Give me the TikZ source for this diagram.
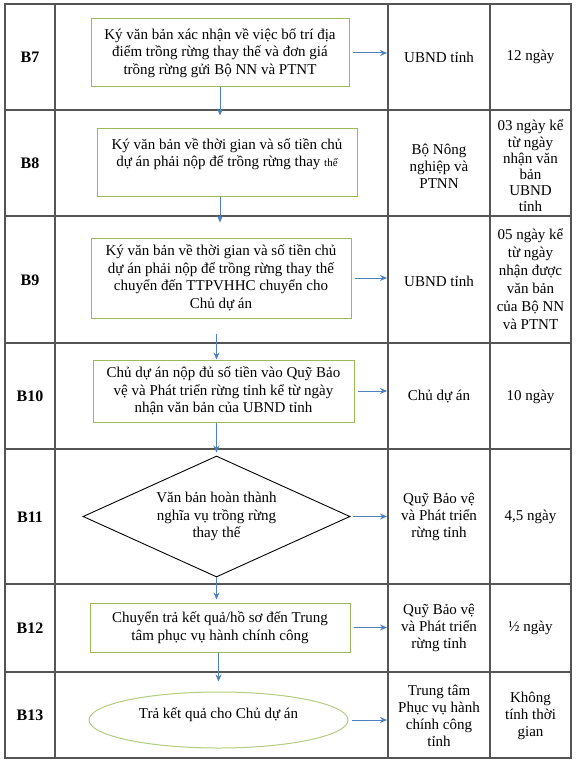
\documentclass[tikz,border=0pt]{standalone}
\usepackage{fontspec}
\setmainfont{Liberation Serif}
\usetikzlibrary{positioning,arrows.meta,shapes.geometric}
\definecolor{boxgreen}{HTML}{9BBB59}
\definecolor{ovalgreen}{HTML}{B5CC86}
\definecolor{arrblue}{HTML}{4F81BD}
\definecolor{gridgray}{HTML}{555555}
\newcommand{\txt}{\fontsize{15}{17.5}\selectfont}

\begin{document}
\begin{tikzpicture}[x=1pt, y=-1pt,
  stepbox/.style={draw=boxgreen, line width=1pt, align=center, font=\txt, inner sep=2pt},
  decide/.style={draw, line width=0.9pt, diamond, aspect=2.2, inner sep=0pt, align=center, font=\txt, minimum width=267pt, minimum height=121pt},
  finish/.style={draw=ovalgreen, line width=1pt, ellipse, inner sep=0pt, align=center, font=\txt, minimum width=259pt, minimum height=56pt},
  cell/.style={align=center, font=\fontsize{15}{17}\selectfont},
  rowlab/.style={font=\fontsize{16}{18}\selectfont\bfseries},
  arrow/.style={-{Stealth[length=7pt, width=6pt]}, arrblue, line width=1pt},
  grid/.style={gridgray, line width=1.5pt}
]
  \useasboundingbox (0,0) rectangle (576,762);
  \fill[white] (0,0) rectangle (576,762);

  % table
  \draw[grid] (5,4) rectangle (571,758);
  \foreach \y in {110,216,343,449,584,672}
    \draw[grid] (5,\y) -- (571,\y);
  \foreach \x in {55,388,490}
    \draw[grid] (\x,4) -- (\x,758);
  \coordinate (split) at (387,0);

  % step labels
  \foreach \lab/\y in {B7/57, B8/163, B9/280, B10/396, B11/517, B12/628, B13/715}
    \node[rowlab] (lab\lab) at (30,\y) {\lab};

  % flow
  \node[stepbox, minimum width=258pt, minimum height=68pt] (b7) at (220,53)
    {Ký văn bản xác nhận về việc bố trí địa\\điểm trồng rừng thay thế và đơn giá\\trồng rừng gửi Bộ NN và PTNT};
  \node[stepbox, minimum width=260pt, minimum height=67pt] (b8) at (227,162.5)
    {Ký văn bản về thời gian và số tiền chủ\\dự án phải nộp để trồng rừng thay {\fontsize{11}{13}\selectfont thế}\\[2pt]};
  \node[stepbox, minimum width=260pt, minimum height=80pt] (b9) at (221,278)
    {Ký văn bản về thời gian và số tiền chủ\\dự án phải nộp để trồng rừng thay thế\\chuyển đến TTPVHHC chuyển cho\\Chủ dự án};
  \node[stepbox, minimum width=261pt, minimum height=62pt] (b10) at (223.5,391)
    {Chủ dự án nộp đủ số tiền vào Quỹ Bảo\\vệ và Phát triển rừng tỉnh kể từ ngày\\nhận văn bản của UBND tỉnh};
  \node[decide] (b11) at (216.5,516.5)
    {Văn bản hoàn thành\\nghĩa vụ trồng rừng\\thay thế};
  \node[stepbox, minimum width=260pt, minimum height=49pt] (b12) at (220,627.5)
    {Chuyển trả kết quả/hồ sơ đến Trung\\tâm phục vụ hành chính công};
  \node[finish] (b13) at (218.5,720) {Trả kết quả cho Chủ dự án\\[-4pt]};

  % who does it, how long
  \node[cell] (who7) at (439,57) {UBND tỉnh};
  \node[cell] (time7) at (530.5,57) {12 ngày};
  \node[cell] (who8) at (439,166) {Bộ Nông\\nghiệp và\\PTNN};
  \node[cell, font=\fontsize{15}{16.2}\selectfont] (time8) at (530.5,166) {03 ngày kể\\từ ngày\\nhận văn\\bản\\UBND\\tỉnh};
  \node[cell] (who9) at (439,281) {UBND tỉnh};
  \node[cell, font=\fontsize{15}{18}\selectfont] (time9) at (530.5,279) {05 ngày kể\\từ ngày\\nhận được\\văn bản\\của Bộ NN\\và PTNT};
  \node[cell] (who10) at (439,397) {Chủ dự án};
  \node[cell] (time10) at (530.5,397) {10 ngày};
  \node[cell] (who11) at (439,517) {Quỹ Bảo vệ\\và Phát triển\\rừng tỉnh};
  \node[cell] (time11) at (530.5,517) {4,5 ngày};
  \node[cell] (who12) at (439,628) {Quỹ Bảo vệ\\và Phát triển\\rừng tỉnh};
  \node[cell] (time12) at (530.5,628) {½ ngày};
  \node[cell] (who13) at (439,716) {Trung tâm\\Phục vụ hành\\chính công\\tỉnh};
  \node[cell] (time13) at (530.5,716) {Không\\tính thời\\gian};

  % down the flow
  \draw[arrow, shorten >=13pt] (b7.south) -- (b7.south |- b8.north);
  \draw[arrow, shorten >=15pt] (b8.south -| b7.south) -- (b7.south |- b9.north);
  \draw[arrow, shorten <=15pt] (b9.south -| b11.north) -- (b10.north -| b11.north);
  \draw[arrow, shorten >=3pt] (b10.south -| b11.north) -- (b11.north);
  \draw[arrow, shorten >=3pt] (b11.south) -- (b11.south |- b12.north);
  \draw[arrow, shorten >=10pt] (b12.south -| b13.north) -- (b13.north);

  % across to the table
  \foreach \s in {b7,b9,b10,b11,b12,b13}
    \draw[arrow, shorten <=3pt] (\s.east) -- (\s.east -| split);
\end{tikzpicture}
\end{document}
